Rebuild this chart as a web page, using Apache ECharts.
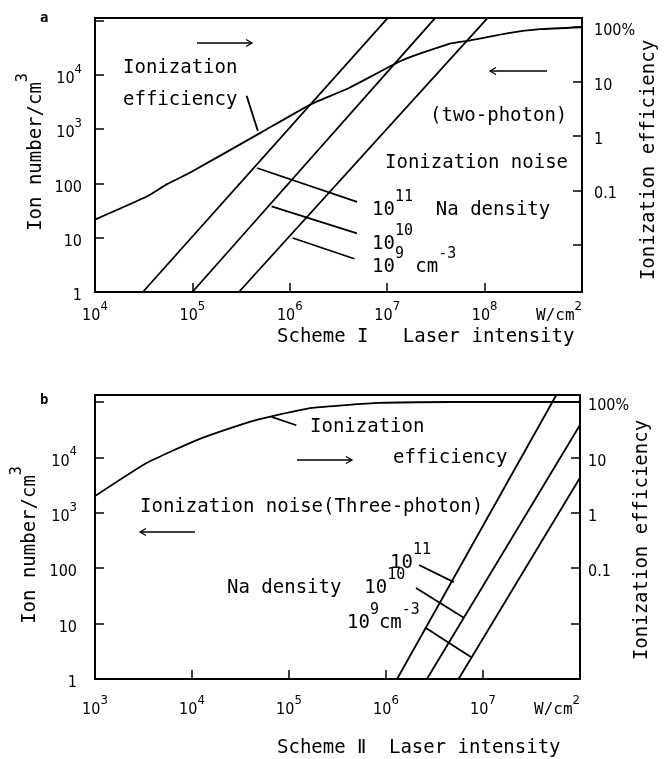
<!DOCTYPE html>
<html>
<head>
<meta charset="utf-8">
<script src="https://cdn.jsdelivr.net/npm/echarts@6.0.0/dist/echarts.min.js"></script>
<style>
  html, body { margin: 0; padding: 0; background: #fff; }
  #chart { width: 664px; height: 759px; }
</style>
</head>
<body>
<div id="chart"></div>
<script>
  // ---- values ----
  // panel a (two-photon, Scheme I): x = laser intensity W/cm2
  const effA = [[1e4, 0.029], [3.4e4, 0.077], [5.5e4, 0.13], [9.4e4, 0.21], [5.2e5, 1.19], [1.68e6, 3.9],
    [4.1e6, 7.7], [1.41e7, 24.5], [4.4e7, 50], [7.0e7, 57], [1.7e8, 77], [3.7e8, 92], [1e9, 100]]
  const noiseA11 = [[3.1e4, 1], [1.01e7, 1.12e5]]
  const noiseA10 = [[1.0e5, 1], [3.1e7, 1.12e5]]
  const noiseA9 = [[3.0e5, 1], [1.07e8, 1.12e5]]
  const leaderA = [[[4.6e5, 193], [4.9e6, 46]], [[6.5e5, 38], [4.9e6, 12]], [[1.07e6, 9.9], [4.6e6, 4.1]]]
  const effLeaderA = [[4.7e5, 1.24], [3.6e5, 5.5]]

  // panel b (three-photon, Scheme II)
  const effB = [[1e3, 2.0], [3.4e3, 7.9], [1.12e4, 20.5], [3.65e4, 42], [6.3e4, 54], [1.74e5, 78],
    [8.5e5, 96], [4.5e6, 100], [1e8, 100]]
  const noiseB11 = [[1.3e6, 1], [5.7e7, 1.34e5]]
  const noiseB10 = [[2.64e6, 1], [1e8, 3.85e4]]
  const noiseB9 = [[5.6e6, 1], [1e8, 4.3e3]]
  const leaderB = [[[2.19e6, 114], [5.0e6, 56]], [[2.04e6, 44], [6.4e6, 12.6]], [[2.58e6, 8.3], [7.5e6, 2.5]]]
  const effLeaderB = [[6.6e4, 54], [1.19e5, 38]]

  // tick values
  const ionTicks = [10, 100, 1e3, 1e4, 1e5]
  const ionLabels = [1, 10, 100, 1e3, 1e4]
  const effTicks = [0.01, 0.1, 1, 10, 100]
  const effLabels = [0.1, 1, 10, 100]
  const xTicksA = [1e5, 1e6, 1e7, 1e8]
  const xLabelsA = [1e4, 1e5, 1e6, 1e7, 1e8, 1e9]
  const xTicksB = [1e4, 1e5, 1e6, 1e7]
  const xLabelsB = [1e3, 1e4, 1e5, 1e6, 1e7, 1e8]

  const mono = '"DejaVu Sans Mono", "Liberation Mono", monospace'
  const numFont = '"DejaVu Sans Condensed", "DejaVu Sans", sans-serif'

  const numRich = {
    b: {fontFamily: numFont, fontSize: 16, lineHeight: 24, verticalAlign: 'bottom', color: '#000'},
    s: {fontFamily: numFont, fontSize: 13, lineHeight: 12, verticalAlign: 'top', color: '#000'},
    w: {fontFamily: mono, fontSize: 16, lineHeight: 24, verticalAlign: 'bottom', color: '#000'}
  }
  const txtRich = {
    b: {fontFamily: mono, fontSize: 19, lineHeight: 30, verticalAlign: 'bottom'},
    s: {fontFamily: mono, fontSize: 15, lineHeight: 14, verticalAlign: 'top'}
  }

  const decade = v => Math.round(Math.log10(v))
  function ionLabel(v) {
    const e = decade(v)
    return e <= 2 ? '{b|' + Math.pow(10, e) + '}' : '{b|10}{s|' + e + '}'
  }
  function effLabel(v) {
    if (v >= 100) return '{b|100%}'
    return '{b|' + (v < 1 ? v.toFixed(1) : String(v)) + '}'
  }
  function xLabel(last) {
    return v => decade(v) === last ? '{w|W/cm}{s|2}' : '{b|10}{s|' + decade(v) + '}'
  }

  const tick = (vals) => ({show: true, inside: true, length: 9, customValues: vals, lineStyle: {color: '#000', width: 1.5}})

  function xAxis(grid, min, max, ticks, labels, last, margin) {
    return {
      type: 'log', logBase: 10, gridIndex: grid, min: min, max: max,
      axisLine: {show: false}, splitLine: {show: false},
      axisTick: tick(ticks),
      axisLabel: {customValues: labels, formatter: xLabel(last), rich: numRich, margin: margin, alignMaxLabel: 'right'}
    }
  }
  function yAxis(grid, pos, min, max, ticks, labels, fmt, margin) {
    return {
      type: 'log', logBase: 10, gridIndex: grid, position: pos, min: min, max: max,
      axisLine: {show: false}, splitLine: {show: false},
      axisTick: tick(ticks),
      axisLabel: {customValues: labels, formatter: fmt, rich: numRich, margin: margin}
    }
  }

  function line(data, xi, yi, smooth) {
    return {
      type: 'line', xAxisIndex: xi, yAxisIndex: yi, data: data, symbol: 'none',
      smooth: smooth ? 0.15 : false,
      lineStyle: {color: '#000', width: 1.8}, silent: true, clip: true
    }
  }

  function text(str, x, y, extra) {
    return Object.assign({
      type: 'text', x: x, y: y,
      style: {text: str, fill: '#000', font: '19px ' + mono, rich: txtRich, align: 'left', verticalAlign: 'middle'}
    }, extra || {})
  }
  function rotText(str, x, y) {
    return {
      type: 'text', x: x, y: y, rotation: Math.PI / 2,
      style: {text: str, fill: '#000', font: '19px ' + mono, rich: txtRich, align: 'center', verticalAlign: 'middle'}
    }
  }
  function arrow(x1, x2, y, dir) {
    const hx = dir > 0 ? x2 : x1
    return {
      type: 'group', children: [
        {type: 'line', shape: {x1: x1, y1: y, x2: x2, y2: y}, style: {stroke: '#000', lineWidth: 1.3}},
        {type: 'polyline', shape: {points: [[hx - dir * 6, y - 3.5], [hx, y], [hx - dir * 6, y + 3.5]]},
          style: {stroke: '#000', lineWidth: 1.3, fill: null}}
      ]
    }
  }

  const chart = echarts.init(document.getElementById('chart'))
  chart.setOption({
    animation: false,
    backgroundColor: '#fff',
    grid: [
      {left: 95, right: 82, top: 18, height: 274, show: true, borderColor: '#000', borderWidth: 2, backgroundColor: 'transparent'},
      {left: 95, right: 84, top: 395, height: 284, show: true, borderColor: '#000', borderWidth: 2, backgroundColor: 'transparent'}
    ],
    xAxis: [
      xAxis(0, 1e4, 1e9, xTicksA, xLabelsA, 9, 8),
      xAxis(1, 1e3, 1e8, xTicksB, xLabelsB, 8, 15)
    ],
    yAxis: [
      yAxis(0, 'left', 1, Math.pow(10, 5.05), ionTicks, ionLabels, ionLabel, 13),
      yAxis(0, 'right', Math.pow(10, -2.87), Math.pow(10, 2.17), effTicks, effLabels, effLabel, 12),
      yAxis(1, 'left', 1, Math.pow(10, 5.126), ionTicks, ionLabels, ionLabel, 18),
      yAxis(1, 'right', 0.001, Math.pow(10, 2.126), effTicks, effLabels, effLabel, 8)
    ],
    series: [
      line(effA, 0, 1, true),
      line(noiseA11, 0, 0),
      line(noiseA10, 0, 0),
      line(noiseA9, 0, 0),
      line(effLeaderA, 0, 1),
      ...leaderA.map(d => line(d, 0, 0)),
      line(effB, 1, 3, true),
      line(noiseB11, 1, 2),
      line(noiseB10, 1, 2),
      line(noiseB9, 1, 2),
      line(effLeaderB, 1, 3),
      ...leaderB.map(d => line(d, 1, 2))
    ],
    graphic: [
      // panel a
      text('a', 40, 18, {style: {text: 'a', fill: '#000', font: 'bold 14px ' + mono, verticalAlign: 'middle'}}),
      text('Ionization', 123, 68),
      text('efficiency', 123, 100),
      text('(two-photon)', 430, 116),
      text('Ionization noise', 385, 163),
      text('{b|10}{s|11}{b|  Na density}', 372, 205),
      text('{b|10}{s|10}', 372, 239),
      text('{b|10}{s|9}{b| cm}{s|-3}', 372, 262),
      arrow(197, 252, 43, 1),
      arrow(490, 547, 71, -1),
      rotText('{b|Ion number/cm}{s|3}', 31, 152),
      rotText('Ionization efficiency', 649, 160),
      text('Scheme I   Laser intensity', 277, 337),
      // panel b
      text('b', 40, 400, {style: {text: 'b', fill: '#000', font: 'bold 14px ' + mono, verticalAlign: 'middle'}}),
      text('Ionization', 310, 427),
      text('efficiency', 393, 458),
      text('Ionization noise(Three-photon)', 140, 507),
      text('{b|10}{s|11}', 390, 558),
      text('{b|Na density  10}{s|10}', 227, 583),
      text('{b|10}{s|9}{b|cm}{s|-3}', 347, 618),
      arrow(297, 352, 460, 1),
      arrow(140, 195, 532, -1),
      rotText('{b|Ion number/cm}{s|3}', 25, 545),
      rotText('Ionization efficiency', 642, 540),
      text('Scheme Ⅱ  Laser intensity', 277, 748)
    ]
  })
</script>
</body>
</html>
